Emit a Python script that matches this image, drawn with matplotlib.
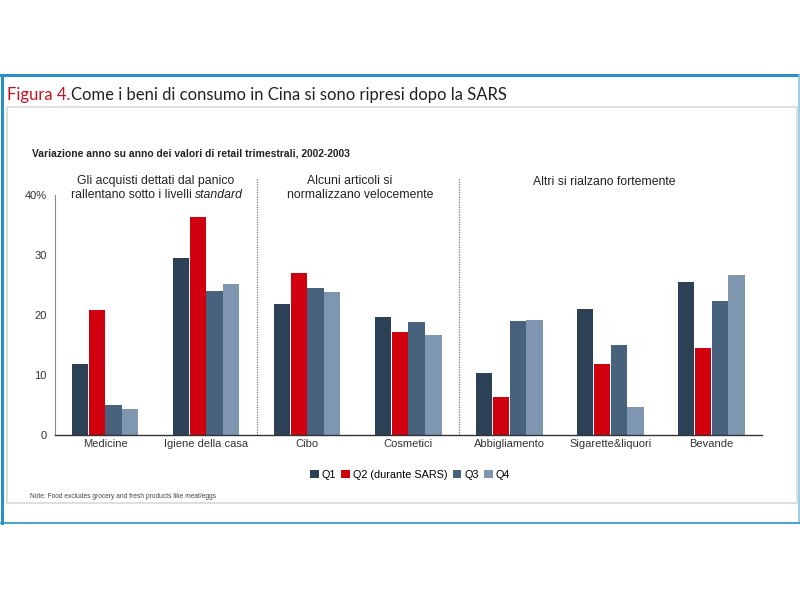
import matplotlib
matplotlib.use("Agg")
import matplotlib.pyplot as plt
from matplotlib.patches import Rectangle, Patch
import numpy as np

plt.rcParams["font.family"] = ["Liberation Sans", "DejaVu Sans"]

categories = ["Medicine", "Igiene della casa", "Cibo", "Cosmetici",
              "Abbigliamento", "Sigarette&liquori", "Bevande"]
q1 = [11.8, 29.5, 21.8, 19.7, 10.3, 21.0, 25.5]
q2 = [20.8, 36.3, 27.0, 17.2, 6.3, 11.8, 14.5]
q3 = [5.0, 24.0, 24.5, 18.8, 19.0, 15.0, 22.3]
q4 = [4.3, 25.2, 23.8, 16.7, 19.2, 4.7, 26.7]
series = [q1, q2, q3, q4]
series_labels = ["Q1", "Q2 (durante SARS)", "Q3", "Q4"]
colors = ["#2c4156", "#d0000f", "#48627d", "#7e96b0"]
yticks = [0, 10, 20, 30, 40]
ytick_labels = ["0", "10", "20", "30", "40%"]

W, H = 800, 600
fig = plt.figure(figsize=(8, 6), dpi=100)
fig.patch.set_facecolor("white")

def fx(x):
    return x / W

def fy(y):
    return 1 - y / H

# outer blue frame
fig.add_artist(plt.Line2D([fx(1), fx(799)], [fy(75), fy(75)], color="#2a8fc8", lw=2.2))
fig.add_artist(plt.Line2D([fx(1.5), fx(1.5)], [fy(75), fy(523)], color="#2a8fc8", lw=2.2))
fig.add_artist(plt.Line2D([fx(798.5), fx(798.5)], [fy(75), fy(523)], color="#8cc4e4", lw=1.2))
fig.add_artist(plt.Line2D([fx(1), fx(799)], [fy(523), fy(523)], color="#2a8fc8", lw=1.2))
# inner gray box
fig.add_artist(Rectangle((fx(7), fy(503)), fx(797) - fx(7), fy(107) - fy(503),
                         transform=fig.transFigure, fill=False, edgecolor="#d9d9d9", lw=1.2))

# title
t1 = fig.text(fx(7), fy(100), "Figura 4.", color="#c8101e", fontsize=12,
              family="Lato", va="baseline", ha="left")
fig.canvas.draw()
bb = t1.get_window_extent()
fig.text(bb.x1 / W + 0.001, fy(100), "Come i beni di consumo in Cina si sono ripresi dopo la SARS",
         color="#222222", fontsize=12, family="Lato", va="baseline", ha="left")

# subtitle
fig.text(fx(32), fy(153), "Variazione anno su anno dei valori di retail trimestrali, 2002-2003",
         fontsize=7.4, fontweight="bold", color="#222222", va="center", ha="left")

ax = fig.add_axes([fx(55), fy(435), fx(762) - fx(55), fy(195) - fy(435)])
x = np.arange(len(categories))
bw = 0.166
for i, (vals, c, lab) in enumerate(zip(series, colors, series_labels)):
    ax.bar(x + (i - 1.5) * bw, vals, width=bw * 0.97, color=c, label=lab, zorder=2)

ax.set_xlim(-0.495, 6.5)
ax.set_ylim(0, 40)
ax.set_yticks(yticks)
ax.set_yticklabels(ytick_labels)
ax.set_xticks(x)
ax.set_xticklabels(categories)
ax.tick_params(axis="both", length=0, labelsize=8, colors="#333333")
ax.tick_params(axis="y", pad=6)
ax.tick_params(axis="x", pad=3)
for s in ["top", "right"]:
    ax.spines[s].set_visible(False)
ax.spines["left"].set_color("#888888")
ax.spines["bottom"].set_color("#333333")
ax.spines["left"].set_linewidth(0.8)
ax.spines["bottom"].set_linewidth(1.0)

# dotted separators
for sx in [1.5, 3.5]:
    ax.plot([sx, sx], [0, 42.8], ls=(0, (1, 1)), color="#777777", lw=0.9, clip_on=False)

# group annotations
fs = 8.8
fig.text(fx(156), fy(181), "Gli acquisti dettati dal panico", fontsize=fs, ha="center", va="center", color="#222222")
r1 = fig.text(0, fy(195), "rallentano sotto i livelli ", fontsize=fs, ha="left", va="center", color="#222222")
r2 = fig.text(0, fy(195), "standard", fontsize=fs, style="italic", ha="left", va="center", color="#222222")
fig.canvas.draw()
w1 = r1.get_window_extent().width
w2 = r2.get_window_extent().width
start = 157 - (w1 + w2) / 2
r1.set_x(fx(start))
r2.set_x(fx(start + w1))
fig.text(fx(350), fy(181), "Alcuni articoli si", fontsize=fs, ha="center", va="center", color="#222222")
fig.text(fx(360), fy(195), "normalizzano velocemente", fontsize=fs, ha="center", va="center", color="#222222")
fig.text(fx(604), fy(182), "Altri si rialzano fortemente", fontsize=fs, ha="center", va="center", color="#222222")

# legend
handles = [Patch(facecolor=c, label=l) for c, l in zip(colors, series_labels)]
fig.legend(handles=handles, loc="center", bbox_to_anchor=(fx(410), fy(475)), ncol=4,
           frameon=False, fontsize=7.8, handlelength=0.8, handleheight=0.8,
           handletextpad=0.25, columnspacing=0.5)

# note
fig.text(fx(30), fy(497), "Note: Food excludes grocery and fresh products like meat/eggs",
         fontsize=4.8, color="#444444", ha="left", va="center")

fig.savefig("out.png", dpi=100, facecolor="white")
